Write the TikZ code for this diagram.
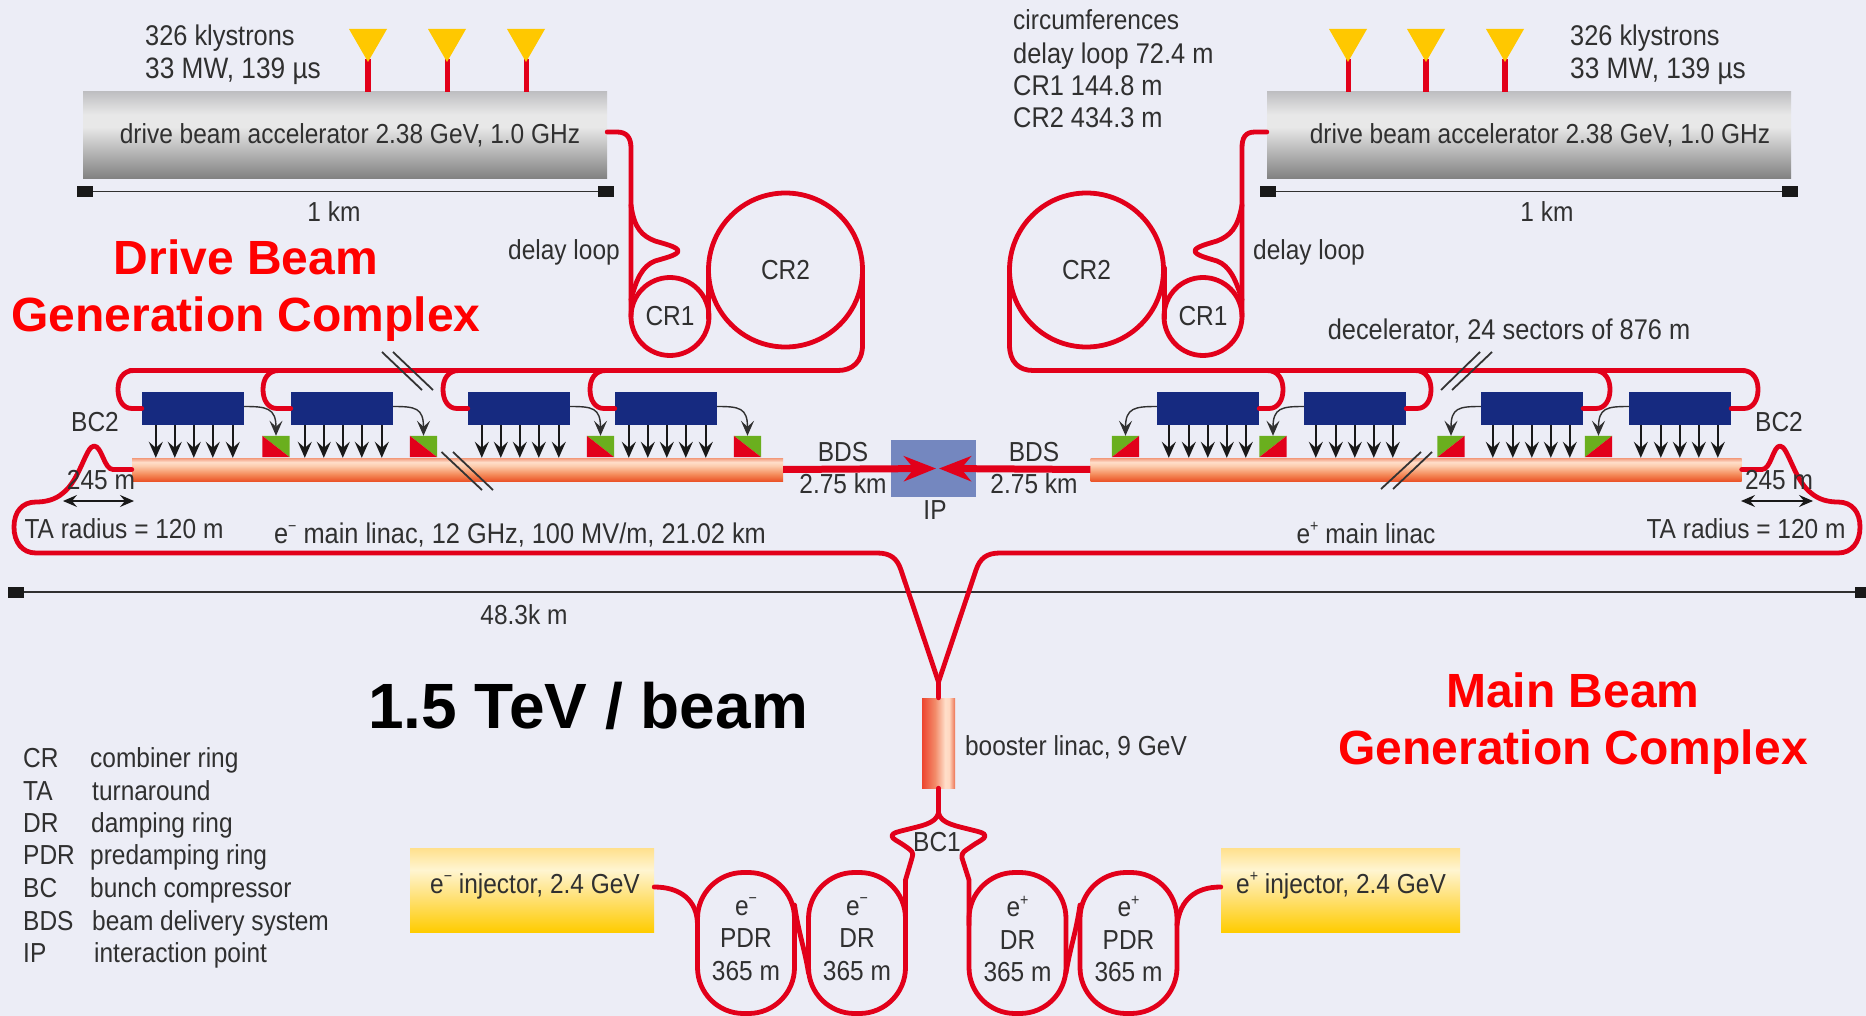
\documentclass[tikz,border=0pt]{standalone}
\usepackage{fontspec}
\setmainfont{Liberation Sans}
\newfontfamily\lblfont[FakeStretch=0.89]{Liberation Sans}
\usetikzlibrary{arrows.meta,calc}
\definecolor{bgc}{HTML}{ECEDF6}
\definecolor{beamc}{HTML}{E2001A}
\definecolor{navyc}{HTML}{162A80}
\definecolor{greenc}{HTML}{6AAF1E}
\definecolor{ipc}{HTML}{7487BF}
\definecolor{txtc}{HTML}{303030}
\definecolor{klyc}{HTML}{FFC800}
\definecolor{redc}{HTML}{FF0000}
\newcommand{\supminus}{\raisebox{.42em}{\fontsize{16}{16}\selectfont −}}
\newcommand{\supplus}{\raisebox{.42em}{\fontsize{16}{16}\selectfont +}}
\pgfdeclareverticalshading{accshade}{100bp}{rgb(0bp)=(0.50,0.50,0.50);rgb(25bp)=(0.50,0.50,0.50);rgb(55bp)=(0.91,0.91,0.91);rgb(62bp)=(0.91,0.91,0.91);rgb(75bp)=(0.75,0.75,0.76);rgb(100bp)=(0.75,0.75,0.76)}
\pgfdeclareverticalshading{linshade}{100bp}{rgb(0bp)=(0.92,0.33,0.16);rgb(25bp)=(0.92,0.33,0.16);rgb(40bp)=(0.96,0.55,0.36);rgb(58bp)=(0.99,0.80,0.68);rgb(66bp)=(1,0.87,0.79);rgb(75bp)=(0.95,0.60,0.48);rgb(100bp)=(0.95,0.60,0.48)}
\pgfdeclareverticalshading{injshade}{100bp}{rgb(0bp)=(1,0.80,0);rgb(25bp)=(1,0.80,0);rgb(45bp)=(1,0.88,0.45);rgb(62bp)=(1,0.96,0.82);rgb(75bp)=(1,0.88,0.55);rgb(100bp)=(1,0.88,0.55)}
\pgfdeclarehorizontalshading{booshade}{100bp}{rgb(0bp)=(0.93,0.27,0.18);rgb(25bp)=(0.93,0.27,0.18);rgb(45bp)=(0.95,0.55,0.42);rgb(60bp)=(1,0.87,0.79);rgb(66bp)=(1,0.85,0.76);rgb(75bp)=(0.93,0.45,0.32);rgb(100bp)=(0.93,0.45,0.32)}
\tikzset{
  beam/.style={draw=beamc,line width=4.8pt,line join=round,line cap=round},
  bdsline/.style={draw=beamc,line width=7pt,-{Stealth[length=32pt,width=25pt,inset=10pt]}},
  ring/.style={circle,draw=beamc,line width=4.8pt,inner sep=0pt,outer sep=0pt,text=txtc,font=\lblfont\fontsize{27.5}{32}\selectfont},
  stad/.style={rectangle,draw=beamc,line width=4.8pt,rounded corners=46pt,minimum width=97pt,minimum height=141pt,inner sep=0pt,outer sep=0pt,text=txtc,align=center,font=\lblfont\fontsize{27.5}{32.5}\selectfont},
  sized/.style n args={2}{rectangle,inner sep=0pt,minimum width=#1,minimum height=#2},
  accel/.style={sized={524pt}{87pt},shading=accshade},
  bluebox/.style={sized={102pt}{33pt},fill=navyc},
  linac/.style={sized={651pt}{23pt},shading=linshade},
  inj/.style={sized={244pt}{84pt},shading=injshade},
  pst/.style={sized={27pt}{21pt}},
  endsq/.style={sized={16pt}{11pt},fill=black!90},
  scaleline/.style={draw=txtc,line width=1.8pt},
  dn/.style={draw=black!90,line width=1.8pt,-{Stealth[length=16pt,width=14pt,inset=6pt]}},
  curv/.style={draw=txtc,line width=1.4pt,-{Stealth[length=15pt,width=13pt,inset=6pt]}},
  dbl/.style={draw=black!90,line width=1.6pt,{Stealth[length=14pt,width=12pt,inset=5pt]}-{Stealth[length=14pt,width=12pt,inset=5pt]}},
  slash/.style={draw=black!80,line width=1.8pt},
  kly/.style={fill=klyc},
  stem/.style={draw=beamc,line width=5pt},
  lbl/.style={text=txtc,inner sep=0pt,text height=20pt,text depth=4pt,font=\lblfont\fontsize{27.5}{32}\selectfont},
  wider/.style={font=\lblfont\fontsize{28.5}{32}\selectfont},
  widest/.style={font=\lblfont\fontsize{29.5}{32}\selectfont},
  big/.style={text=redc,inner sep=0pt,font=\bfseries\fontsize{48}{57}\selectfont,align=center},
}
\begin{document}
\begin{tikzpicture}[x=1pt,y=-1pt]
\useasboundingbox (0,0) rectangle (1866,1016);
\fill[bgc] (0,0) rectangle (1866,1016);

% accelerators and klystrons
\node[accel] (accL) at (345,135.5) {};
\node[accel] (accR) at (1529,135.5) {};
\foreach \a/\x/\w in {kl1/368/6.5,kl2/447/5,kl3/526/5,kr1/1348/5,kr2/1426/5.5,kr3/1505/6.5}{
  \coordinate (\a) at (\x,62);
  \draw[stem,line width=\w pt] ($(\a)+(0,-3)$) -- (\a |- accL.north);
  \fill[kly] ($(\a)+(-19,-33)$) -- ($(\a)+(19,-33)$) -- (\a) -- cycle;
}
% scale bars
\node[endsq] (s1a) at (85,191.5) {};
\node[endsq] (s1b) at (606,191.5) {};
\node[endsq] (s2a) at (1268,191.5) {};
\node[endsq] (s2b) at (1790,191.5) {};
\node[endsq] (s3a) at (16,592) {};
\node[endsq] (s3b) at (1863,592) {};
\draw[scaleline] (s1a) -- (s1b);
\draw[scaleline] (s2a) -- (s2b);
\draw[scaleline] (s3a) -- (s3b);

% linacs
\node[linac] (linacL) at (457.5,469.5) {};
\node[linac] (linacR) at (1416,469.5) {};
\node[sized={85pt}{57pt},fill=ipc] (ip) at (933.5,468.5) {};
\coordinate (ipl) at (936,468.5);
\coordinate (ipr) at (939,468.5);

% decelerator boxes
\node[bluebox] (bl1) at (193,408.5) {};
\node[bluebox] (bl2) at (342,408.5) {};
\node[bluebox] (bl3) at (519,408.5) {};
\node[bluebox] (bl4) at (666,408.5) {};
\node[bluebox] (br1) at (1208,408.5) {};
\node[bluebox] (br2) at (1355,408.5) {};
\node[bluebox] (br3) at (1532,408.5) {};
\node[bluebox] (br4) at (1680,408.5) {};
\foreach \b in {bl1,bl2,bl3,bl4}
  \foreach \d in {14,33,52,71,91}
    \draw[dn] ([xshift=\d pt]\b.south west) -- ([xshift=\d pt]\b.south west |- linacL.north);
\foreach \b in {br1,br2,br3,br4}
  \foreach \d in {12,32,51,70,89}
    \draw[dn] ([xshift=\d pt]\b.south west) -- ([xshift=\d pt]\b.south west |- linacR.north);

% power extraction squares
\foreach \s/\x/\b in {sl1/276/bl1,sl2/423.5/bl2,sl3/600.5/bl3,sl4/747.5/bl4}{
  \node[pst] (\s) at (\x,446.5) {};
  \fill[greenc] (\s.north west) -- (\s.north east) -- (\s.south east) -- cycle;
  \fill[beamc] (\s.north west) -- (\s.south east) -- (\s.south west) -- cycle;
  \draw[curv] ($(\b.east)+(0,-2)$) .. controls ($(\b.east)+(22,-2)$) and ($(\s.north)+(0,-28)$) .. (\s.north);
}
\foreach \s/\x/\b in {sr1/1125.5/br1,sr2/1273/br2,sr3/1451/br3,sr4/1598.5/br4}{
  \node[pst] (\s) at (\x,446.5) {};
  \fill[greenc] (\s.south west) -- (\s.north west) -- (\s.north east) -- cycle;
  \fill[beamc] (\s.south west) -- (\s.north east) -- (\s.south east) -- cycle;
  \draw[curv] ($(\b.west)+(0,-2)$) .. controls ($(\b.west)+(-22,-2)$) and ($(\s.north)+(0,-28)$) .. (\s.north);
}

% BDS
\draw[bdsline] (linacL.east) -- (ipl);
\draw[bdsline] (linacR.west) -- (ipr);

% combiner rings and delay loops
\node[ring,minimum size=154pt] (cr2L) at (785.5,270) {\raisebox{-6pt}{CR2}};
\node[ring,minimum size=78pt] (cr1L) at (670,316.5) {CR1};
\node[ring,minimum size=154pt] (cr2R) at (1086.5,270) {\raisebox{-6pt}{CR2}};
\node[ring,minimum size=78pt] (cr1R) at (1203,316.5) {CR1};

\draw[beam] ($(accL.east)+(0,-3.5)$) -- (617,132) .. controls (627,132) and (631,138) .. (631,148) -- (cr1L.west);
\draw[beam] (631,205) .. controls (634,228) and (642,236) .. (655,241) .. controls (665,244) and (678,247) .. (678,251) .. controls (678,255) and (665,258) .. (655,261) .. controls (642,266) and (636,280) .. (631,300);
\draw[beam] (708.5,268) -- (708.5,318);
\draw[beam] (cr2L.east) -- (862.5,345) .. controls (862.5,362) and (852,370.5) .. (838,370.5) -- (130,370.5);

\draw[beam] ($(accR.west)+(0,-3.5)$) -- (1255,132) .. controls (1245,132) and (1242,138) .. (1242,148) -- (cr1R.east);
\draw[beam] (1242,205) .. controls (1238,228) and (1230,236) .. (1217,241) .. controls (1207,244) and (1195,247) .. (1195,251) .. controls (1195,255) and (1207,258) .. (1217,261) .. controls (1230,266) and (1236,280) .. (1242,300);
\draw[beam] (1164.5,268) -- (1164.5,318);
\draw[beam] (cr2R.west) -- (1009.5,345) .. controls (1009.5,362) and (1019,370.5) .. (1033,370.5) -- (1744,370.5);

% feed loops
\foreach \b/\e in {bl1/118,bl2/263,bl3/443,bl4/590}
  \draw[beam] (\b.west) -- (\e+14,408.5) .. controls (\e+5,408.5) and (\e,400) .. (\e,389.5) .. controls (\e,379) and (\e+5,370.5) .. (\e+16,370.5);
\foreach \b/\e in {br1/1283,br2/1431,br3/1610,br4/1758}
  \draw[beam] (\b.east) -- (\e-14,408.5) .. controls (\e-5,408.5) and (\e,400) .. (\e,389.5) .. controls (\e,379) and (\e-5,370.5) .. (\e-16,370.5);

% break marks
\draw[slash] (382,352) -- (422,390);
\draw[slash] (393,352) -- (433,390);
\draw[slash] (1441,390) -- (1480,352);
\draw[slash] (1452,390) -- (1492,352);
\draw[slash] (441.5,452) -- (482,490);
\draw[slash] (453,452) -- (493,490);
\draw[slash] (1381,489) -- (1421,452);
\draw[slash] (1393,489) -- (1432,452);

% booster, injectors, damping rings
\node[sized={33pt}{90pt},shading=booshade] (boost) at (938.5,743) {};
\coordinate (junc) at (938.5,682);
\coordinate (bcj) at (938.5,813);
\node[inj] (injm) at (532,890) {};
\node[inj,minimum width=239pt] (injp) at (1340.5,890) {};
\node[stad] (pdrm) at (746,943) {e\supminus\\PDR\\365 m\rule[-8pt]{0pt}{8pt}};
\node[stad] (drm) at (857,943) {e\supminus\\DR\\365 m\rule[-8pt]{0pt}{8pt}};
\node[stad] (drp) at (1017.5,943) {e\supplus\\DR\\365 m\rule[-8pt]{0pt}{8pt}};
\node[stad] (pdrp) at (1128.5,943) {e\supplus\\PDR\\365 m\rule[-8pt]{0pt}{8pt}};

% turnarounds
\draw[beam] (linacL.west) -- (113,469.5) .. controls (104,469.5) and (102,446) .. (94,446) .. controls (86,446) and (80,480) .. (63,493) .. controls (55,500) and (45,502) .. (36,502) .. controls (22,502) and (14,512) .. (14,527) .. controls (14,542) and (22,553) .. (36,553) -- (877,553) .. controls (890,553) and (897,558) .. (901,570) -- (junc) -- (boost.north);
\draw[beam] (linacR.east) -- (1762,469.5) .. controls (1771,469.5) and (1773,446) .. (1780,446) .. controls (1788,446) and (1794,480) .. (1811,493) .. controls (1819,500) and (1829,502) .. (1838,502) .. controls (1852,502) and (1860,512) .. (1860,527) .. controls (1860,542) and (1852,553) .. (1838,553) -- (1000,553) .. controls (987,553) and (980,558) .. (976,570) -- (junc);

% BC1
\draw[beam] (boost.south) -- (bcj);
\draw[beam] (bcj) .. controls (936,824) and (920,826) .. (905,830) .. controls (897,832) and (892,833) .. (892,836) .. controls (892,839) and (898,841) .. (905,846) .. controls (912,851) and (914,852) .. (912,858) -- (905.5,880) -- (905.5,925);
\draw[beam] (bcj) .. controls (941,824) and (957,826) .. (972,830) .. controls (980,832) and (985,833) .. (985,836) .. controls (985,839) and (979,841) .. (972,846) .. controls (965,851) and (961,852) .. (962,858) -- (969,880) -- (969,925);

% ring connections
\draw[beam] ($(pdrm.east)+(0,-38)$) .. controls ($(pdrm.east)+(4,-10)$) and ($(drm.west)+(-4,5)$) .. ($(drm.west)+(0,30)$);
\draw[beam] ($(pdrp.west)+(0,-38)$) .. controls ($(pdrp.west)+(-4,-10)$) and ($(drp.east)+(4,5)$) .. ($(drp.east)+(0,30)$);
\draw[beam] ($(injm.east)+(0,-3)$) .. controls (680,887) and (697.5,900) .. ($(pdrm.west)+(0,-18)$);
\draw[beam] ($(injp.west)+(0,-3)$) .. controls (1195,887) and (1180,900) .. ($(pdrp.east)+(0,-18)$);

% double arrows
\coordinate (ta1) at (63,501);
\coordinate (ta2) at (134,501);
\coordinate (ta3) at (1741,501);
\coordinate (ta4) at (1813,501);
\draw[dbl] (ta1) -- (ta2);
\draw[dbl] (ta3) -- (ta4);

% labels
\node[lbl] (t1) at (350,135.5) {drive beam accelerator 2.38 GeV, 1.0 GHz};
\node[lbl] (t2) at (1540,135.5) {drive beam accelerator 2.38 GeV, 1.0 GHz};
\node[lbl,wider,anchor=west] (t3) at (145,38) {326 klystrons};
\node[lbl,widest,anchor=west] (t4) at (145,71) {33 MW, 139 µs};
\node[lbl,wider,anchor=west] (t5) at (1570,38) {326 klystrons};
\node[lbl,widest,anchor=west] (t6) at (1570,71) {33 MW, 139 µs};
\node[lbl] (t7) at (334,214) {1 km};
\node[lbl] (t8) at (1547,214) {1 km};
\node[lbl] (t9) at (564,252) {delay loop};
\node[lbl] (t10) at (1309,252) {delay loop};
\node[lbl,anchor=west] (t11) at (1013,22) {circumferences};
\node[lbl,wider,anchor=west] (t12) at (1013,56) {delay loop 72.4 m};
\node[lbl,wider,anchor=west] (t13) at (1013,88) {CR1 144.8 m};
\node[lbl,wider,anchor=west] (t14) at (1013,120) {CR2 434.3 m};
\node[lbl,wider] (t15) at (1509,331) {decelerator, 24 sectors of 876 m};
\node[lbl] (t16) at (95,423) {BC2};
\node[lbl] (t17) at (1779,423) {BC2};
\node[lbl] (t18) at (101,481) {245 m};
\node[lbl] (t19) at (1779,481) {245 m};
\node[lbl] (t20) at (124,530) {TA radius = 120 m};
\node[lbl] (t21) at (1746,530) {TA radius = 120 m};
\node[lbl,wider] (t22) at (520,535) {e\supminus{} main linac, 12 GHz, 100 MV/m, 21.02 km};
\node[lbl] (t23) at (1366,535) {e\supplus{} main linac};
\node[lbl] (t24) at (843,453) {BDS};
\node[lbl] (t25) at (843,485) {2.75 km};
\node[lbl] (t26) at (1034,453) {BDS};
\node[lbl] (t27) at (1034,485) {2.75 km};
\node[lbl] (t28) at (935,511) {IP};
\node[lbl] (t29) at (524,616) {48.3k m};
\node[lbl] (t30) at (1076,747) {booster linac, 9 GeV};
\node[lbl] (t31) at (937,843) {BC1};
\node[lbl] (t32) at (535,885) {e\supminus{} injector, 2.4 GeV};
\node[lbl] (t33) at (1341,885) {e\supplus{} injector, 2.4 GeV};
\foreach \n/\y/\ab/\xx/\de in {a/759/CR/90/combiner ring,b/792/TA/92/turnaround,c/824/DR/91/damping ring,d/856/PDR/90/predamping ring,e/889/BC/90/bunch compressor,f/922/BDS/92/beam delivery system,g/954/IP/94/interaction point}{
  \node[lbl,anchor=west] (la\n) at (23,\y) {\ab};
  \node[lbl,anchor=west] (ld\n) at (\xx,\y) {\de};
}
\node[big] (h1) at (246,291) {Drive Beam\\Generation Complex};
\node[big] (h2) at (1573,724) {Main Beam\\Generation Complex};
\node[text=black,inner sep=0pt,font=\bfseries\fontsize{64}{70}\selectfont] (h3) at (588,706) {1.5 TeV / beam};
\end{tikzpicture}
\end{document}
